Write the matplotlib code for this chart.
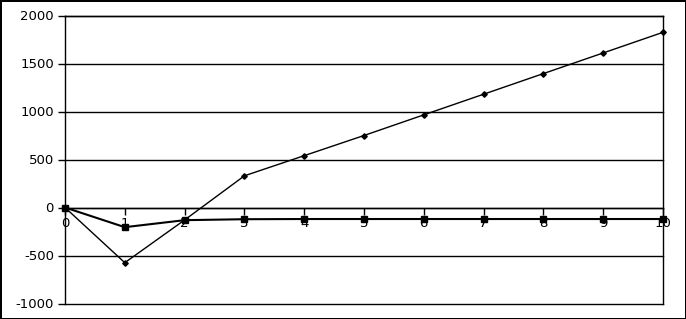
import matplotlib.pyplot as plt
import numpy as np

plt.rcParams['axes.unicode_minus'] = False

x = np.arange(0, 11)
series_a = [0, -575, -130, 330, 540, 750, 965, 1180, 1395, 1610, 1825]
series_b = [0, -205, -132, -122, -120, -120, -120, -120, -120, -120, -120]
y_ticks = [-1000, -500, 0, 500, 1000, 1500, 2000]

fig = plt.figure(figsize=(6.86, 3.19), dpi=100)
fig.patch.set_edgecolor('black')
fig.patch.set_linewidth(2)
ax = fig.add_axes([65 / 686, 15.5 / 319, 598 / 686, 288 / 319])

for y in y_ticks:
    ax.axhline(y, color='black', lw=1, zorder=1, clip_on=False)

ax.plot(x, series_b, color='black', lw=1.5, marker='s', markersize=4,
        zorder=3, clip_on=False)
ax.plot(x, series_a, color='black', lw=1, marker='D', markersize=2.8,
        zorder=4, clip_on=False)

ax.set_xlim(0, 10)
ax.set_ylim(-1000, 2000)
ax.set_xticks(x)
ax.set_yticks(y_ticks)
ax.spines['bottom'].set_position(('data', 0))
for s in ax.spines.values():
    s.set_linewidth(1)
ax.tick_params(axis='x', direction='out', length=5, width=1, pad=1.5, labelsize=9.5)
ax.tick_params(axis='y', direction='out', length=5, width=1, pad=3, labelsize=9.5)

plt.savefig('out.png', dpi=100)
